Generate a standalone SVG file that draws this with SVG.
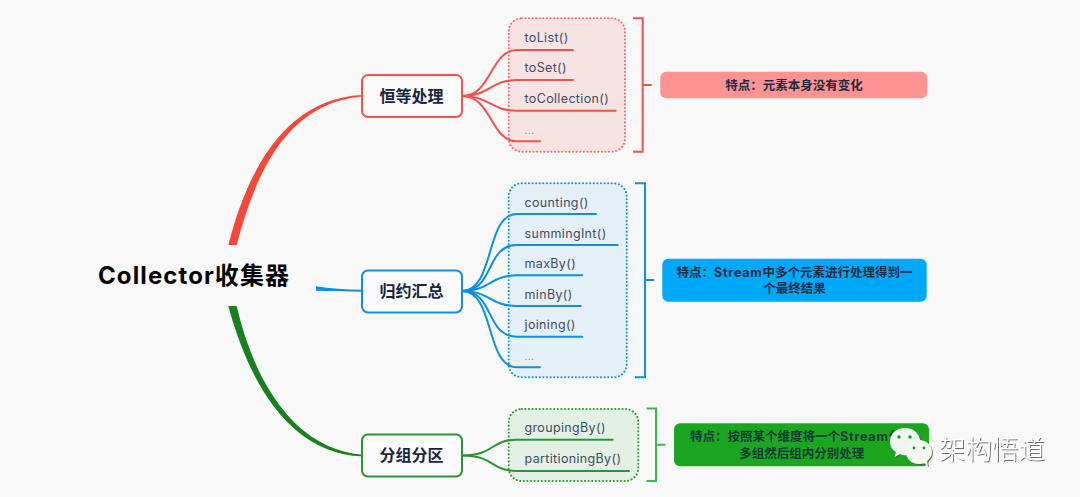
<svg xmlns="http://www.w3.org/2000/svg" width="1080" height="497" viewBox="0 0 1080 497">
<defs>
<filter id="sh" x="-20%" y="-20%" width="140%" height="140%"><feDropShadow dx="1" dy="1" stdDeviation="0.7" flood-color="#555" flood-opacity="0.85"/></filter>
</defs>
<style>
text{font-family:"Inter","Noto Sans CJK SC",sans-serif}
.main{font-size:16px;font-weight:700;fill:#17263d;text-anchor:middle}
.leaf{font-size:12.5px;fill:#3d4c63;letter-spacing:.35px}
.dots{font-size:10px;fill:#6d7888}
.note{font-size:12.5px;font-weight:700;fill:#1b2b40;text-anchor:middle}
.node{fill:#fafafa;stroke-width:2}
.box{stroke-width:2;stroke-dasharray:.1 3.5;stroke-linecap:round}
.br{fill:none;stroke-width:2}
.lk{fill:none;stroke-width:2;stroke-linecap:round}
.r{stroke:#f2524a}.b{stroke:#0e90db}.g{stroke:#2c9433}
</style>
<rect width="1080" height="497" fill="#f8f8f8"/>
<g id="connectors">
<path d="M228.3 245C245 180 280 99 362 95L362 96.500C286 103 255 175 236.700 245Z" fill="#f3483a"/>
<path d="M316 286.200C330 288.500 345 289.700 362 289.700L362 291.700C345 291.700 330 291.300 316 290.800Z" fill="#0e90db"/>
<path d="M228.300 306C250 385 290 453 362 456.300L362 454.800C296 449 255 385 236.700 306Z" fill="#17801f"/>
</g>
<g id="box-identity"><rect class="box" x="508.700" y="18.300" width="116.300" height="133.400" rx="13" fill="#f8e3e3" stroke="#ff6464"/></g>
<g id="box-reduce"><rect class="box" x="508.700" y="183.300" width="118" height="194" rx="13" fill="#e5f0f6" stroke="#0e90db"/></g>
<g id="box-group"><rect class="box" x="508.700" y="409" width="129.600" height="72" rx="13" fill="#e2f1e3" stroke="#2c9433"/></g>
<g id="connectors-leaf">
<g class="lk r">
<path d="M462 96C492 96 490 50 517 50H573"/>
<path d="M462 96C490 96 490 80 517 80H573"/>
<path d="M462 96C490 96 490 110.700 517 110.700H615.700"/>
<path d="M462 96C492 96 490 141.300 517 141.300H540"/>
</g>
<g class="lk b">
<path d="M462 291C495 291 485 214 517 214H596"/>
<path d="M462 291C495 291 485 245 517 245H617.700"/>
<path d="M462 291C490 291 490 275.300 517 275.300H582.300"/>
<path d="M462 291C490 291 490 306 517 306H580.700"/>
<path d="M462 291C495 291 485 336.700 517 336.700H582.300"/>
<path d="M462 291C495 291 485 367.300 517 367.300H540"/>
</g>
<g class="lk g">
<path d="M462 455.500C495 455.500 490 439.700 517 439.700H612.700"/>
<path d="M462 455.500C495 455.500 490 471 517 471H629"/>
</g>
</g>
<g id="root"><text x="98" y="284" font-size="24" font-weight="700" fill="#050505" textLength="191" lengthAdjust="spacing">Collector收集器</text></g>
<g id="node-identity"><rect class="node r" x="362" y="75" width="100" height="42" rx="6"/><text class="main" x="411.500" y="102">恒等处理</text></g>
<g id="node-reduce"><rect class="node b" x="362" y="270.500" width="100" height="42" rx="6"/><text class="main" x="411.500" y="297">归约汇总</text></g>
<g id="node-group"><rect class="node g" x="362" y="434.500" width="100" height="42" rx="6"/><text class="main" x="411.500" y="461">分组分区</text></g>
<g id="leaf-toList"><text class="leaf" x="524.500" y="42">toList()</text></g>
<g id="leaf-toSet"><text class="leaf" x="524.500" y="72">toSet()</text></g>
<g id="leaf-toCollection"><text class="leaf" x="524.500" y="103">toCollection()</text></g>
<g id="leaf-dots1"><text class="leaf dots" x="524.500" y="134">...</text></g>
<g id="leaf-counting"><text class="leaf" x="524.500" y="206.500">counting()</text></g>
<g id="leaf-summingInt"><text class="leaf" x="524.500" y="237.500">summingInt()</text></g>
<g id="leaf-maxBy"><text class="leaf" x="524.500" y="267.500">maxBy()</text></g>
<g id="leaf-minBy"><text class="leaf" x="524.500" y="298.500">minBy()</text></g>
<g id="leaf-joining"><text class="leaf" x="524.500" y="328.500">joining()</text></g>
<g id="leaf-dots2"><text class="leaf dots" x="524.500" y="360">...</text></g>
<g id="leaf-groupingBy"><text class="leaf" x="524.500" y="432">groupingBy()</text></g>
<g id="leaf-partitioningBy"><text class="leaf" x="524.500" y="463">partitioningBy()</text></g>
<g id="brackets">
<path class="br" stroke="#f2524a" d="M633 18.300H642.700V151.700H633M642.700 85H651.700"/>
<path class="br" stroke="#0e90db" d="M635 183.300H645V377.300H635M645 280H654"/>
<path class="br" stroke="#3fb54a" d="M646.500 408.500H656V481H646.500M656 444.700H665.500"/>
</g>
<g id="note-identity"><rect x="660.300" y="71.700" width="267" height="26.600" rx="6" fill="#ff9292"/><text class="note" x="794" y="90">特点：元素本身没有变化</text></g>
<g id="note-reduce"><rect x="662.300" y="258.700" width="264.400" height="43" rx="6" fill="#00a8f8"/><text class="note" x="794.500" y="276.500">特点：<tspan letter-spacing=".8">Stream</tspan>中多个元素进行处理得到一</text><text class="note" x="794.500" y="293">个最终结果</text></g>
<g id="note-group"><rect x="674" y="423.300" width="255" height="43" rx="6" fill="#1aa61f"/><text class="note" style="text-anchor:start;fill:#0c3a35" x="690" y="441">特点：按照某个维度将一个<tspan letter-spacing=".8">Stream</tspan>分</text><text class="note" style="fill:#0c3a35" x="801.700" y="458">多组然后组内分别处理</text></g>
<g id="watermark">
<g filter="url(#sh)">
<path d="M905 428C896 428 890 434 890 441.500C890 446 892 449.500 896 452L894.500 457L900 454C902 455 903.500 455.300 905 455.300C914 455.300 920 449 920 441.500C920 434 914 428 905 428Z" fill="#eef6ee"/>
<path d="M919 440C911.500 440 906 445.500 906 452C906 458.500 911.500 464 919 464C921 464 922.500 463.700 924 463L928 466L927 461C930 458.500 932 455.500 932 452C932 445.500 926.500 440 919 440Z" fill="#f2f8f0"/>
</g>
<g fill="#1f8f2a"><circle cx="899" cy="437" r="1.700"/><circle cx="910" cy="437" r="1.700"/><circle cx="914" cy="448" r="1.400"/><circle cx="924" cy="448" r="1.400"/></g>
<text x="939" y="459" font-size="26.500" font-weight="300" fill="#fff" filter="url(#sh)" style="font-family:'Noto Sans CJK SC',sans-serif">架构悟道</text>
</g>
</svg>
